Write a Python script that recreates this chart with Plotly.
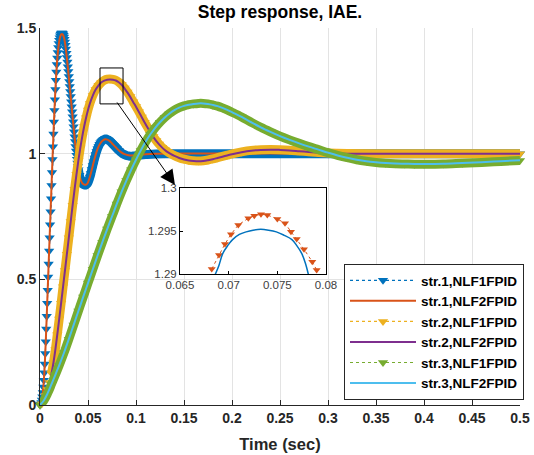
import plotly.graph_objects as go

# ---------------- data ----------------
# str.1, NLF1FPID (markers)
T1A = [0.0000, 0.0005, 0.0010, 0.0015, 0.0020, 0.0025, 0.0030, 0.0035, 0.0040, 0.0045,
       0.0050, 0.0055, 0.0060, 0.0065, 0.0070, 0.0075, 0.0080, 0.0085, 0.0090, 0.0095,
       0.0100, 0.0105, 0.0110, 0.0115, 0.0120, 0.0125, 0.0130, 0.0135, 0.0140, 0.0145,
       0.0150, 0.0155, 0.0160, 0.0165, 0.0170, 0.0175, 0.0180, 0.0185, 0.0190, 0.0195,
       0.0200, 0.0205, 0.0210, 0.0215, 0.0220, 0.0225, 0.0230, 0.0235, 0.0240, 0.0245,
       0.0250, 0.0255, 0.0260, 0.0265, 0.0270, 0.0275, 0.0280, 0.0285, 0.0290, 0.0295,
       0.0300, 0.0305, 0.0310, 0.0315, 0.0320, 0.0325, 0.0330, 0.0335, 0.0340, 0.0345,
       0.0350, 0.0355, 0.0360, 0.0365, 0.0370, 0.0375, 0.0380, 0.0385, 0.0390, 0.0395,
       0.0400, 0.0410, 0.0420, 0.0430, 0.0440, 0.0450, 0.0460, 0.0470, 0.0480, 0.0490,
       0.0500, 0.0510, 0.0520, 0.0530, 0.0540, 0.0550, 0.0560, 0.0570, 0.0580, 0.0590,
       0.0600, 0.0610, 0.0620, 0.0630, 0.0640, 0.0650, 0.0660, 0.0670, 0.0680, 0.0690,
       0.0700, 0.0710, 0.0720, 0.0730, 0.0740, 0.0750, 0.0760, 0.0770, 0.0780, 0.0790,
       0.0800, 0.0820, 0.0840, 0.0860, 0.0880, 0.0900, 0.0920, 0.0940, 0.0960, 0.0980,
       0.1000, 0.1050, 0.1100, 0.1200, 0.1300, 0.1500, 0.2000, 0.2500, 0.3000, 0.3500,
       0.4000, 0.4500, 0.5000]
Y1A = [0.000, 0.001, 0.004, 0.010, 0.020, 0.033, 0.050, 0.072, 0.098, 0.128,
       0.163, 0.205, 0.252, 0.302, 0.353, 0.405, 0.457, 0.509, 0.561, 0.613,
       0.665, 0.717, 0.769, 0.821, 0.873, 0.925, 0.977, 1.028, 1.078, 1.126,
       1.172, 1.215, 1.255, 1.292, 1.325, 1.355, 1.381, 1.403, 1.422, 1.438,
       1.451, 1.461, 1.469, 1.475, 1.478, 1.480, 1.480, 1.479, 1.476, 1.471,
       1.464, 1.455, 1.444, 1.431, 1.416, 1.400, 1.383, 1.365, 1.346, 1.327,
       1.307, 1.287, 1.267, 1.247, 1.227, 1.207, 1.187, 1.167, 1.147, 1.127,
       1.107, 1.087, 1.067, 1.048, 1.029, 1.011, 0.994, 0.978, 0.963, 0.949,
       0.936, 0.914, 0.899, 0.889, 0.882, 0.878, 0.876, 0.875, 0.876, 0.879,
       0.885, 0.895, 0.907, 0.921, 0.937, 0.953, 0.968, 0.983, 0.997, 1.009,
       1.020, 1.029, 1.037, 1.043, 1.048, 1.052, 1.055, 1.057, 1.058, 1.058,
       1.057, 1.055, 1.052, 1.049, 1.045, 1.041, 1.037, 1.033, 1.029, 1.025,
       1.021, 1.013, 1.006, 1.000, 0.996, 0.993, 0.991, 0.990, 0.990, 0.991,
       0.992, 0.995, 0.997, 0.999, 1.000, 1.000, 1.000, 1.000, 1.000, 1.000,
       1.000, 1.000, 1.000]

# str.1, NLF2FPID (line)
T1B = [0.000, 0.002, 0.003, 0.004, 0.005, 0.006, 0.007, 0.008, 0.009, 0.010,
       0.011, 0.012, 0.013, 0.014, 0.015, 0.016, 0.017, 0.018, 0.019, 0.020,
       0.021, 0.022, 0.023, 0.024, 0.025, 0.026, 0.027, 0.028, 0.029, 0.030,
       0.031, 0.032, 0.033, 0.034, 0.035, 0.036, 0.037, 0.038, 0.039, 0.040,
       0.041, 0.042, 0.043, 0.044, 0.045, 0.046, 0.047, 0.048, 0.049, 0.050,
       0.052, 0.054, 0.056, 0.058, 0.060, 0.062, 0.064, 0.066, 0.068, 0.070,
       0.072, 0.074, 0.076, 0.078, 0.080, 0.084, 0.088, 0.092, 0.096, 0.100,
       0.110, 0.120, 0.150, 0.200, 0.300, 0.400, 0.500]
Y1B = [0.000, 0.020, 0.050, 0.098, 0.163, 0.252, 0.353, 0.457, 0.561, 0.665,
       0.769, 0.873, 0.977, 1.077, 1.170, 1.252, 1.321, 1.377, 1.418, 1.447,
       1.465, 1.474, 1.476, 1.472, 1.461, 1.442, 1.414, 1.381, 1.344, 1.305,
       1.265, 1.225, 1.185, 1.145, 1.105, 1.066, 1.028, 0.994, 0.964, 0.937,
       0.915, 0.900, 0.890, 0.883, 0.879, 0.877, 0.876, 0.877, 0.880, 0.886,
       0.908, 0.937, 0.968, 0.996, 1.019, 1.036, 1.047, 1.054, 1.057, 1.056,
       1.052, 1.045, 1.037, 1.029, 1.021, 1.007, 0.998, 0.994, 0.993, 0.994,
       0.998, 1.000, 1.001, 1.001, 1.001, 1.000, 1.000]

# str.2 (both controllers share the time base)
T2 = [0.000, 0.002, 0.004, 0.006, 0.008, 0.010, 0.012, 0.014, 0.016, 0.018,
      0.020, 0.022, 0.024, 0.026, 0.028, 0.030, 0.032, 0.034, 0.036, 0.038,
      0.040, 0.042, 0.044, 0.046, 0.048, 0.050, 0.052, 0.055, 0.058, 0.061,
      0.064, 0.067, 0.070, 0.073, 0.076, 0.079, 0.082, 0.085, 0.088, 0.091,
      0.094, 0.097, 0.100, 0.103, 0.106, 0.109, 0.112, 0.115, 0.118, 0.121,
      0.124, 0.127, 0.130, 0.133, 0.136, 0.140, 0.145, 0.150, 0.155, 0.160,
      0.165, 0.170, 0.175, 0.180, 0.185, 0.190, 0.195, 0.200, 0.210, 0.220,
      0.230, 0.240, 0.250, 0.260, 0.270, 0.280, 0.290, 0.300, 0.320, 0.350,
      0.400, 0.450, 0.500]
Y2A = [0.000, 0.005, 0.018, 0.038, 0.062, 0.090, 0.125, 0.168, 0.220, 0.280,
       0.342, 0.405, 0.470, 0.535, 0.600, 0.665, 0.730, 0.795, 0.858, 0.918,
       0.973, 1.023, 1.068, 1.108, 1.143, 1.174, 1.200, 1.231, 1.255, 1.272,
       1.284, 1.292, 1.2962, 1.2970, 1.2958, 1.292, 1.285, 1.275, 1.261, 1.245,
       1.227, 1.207, 1.188, 1.167, 1.146, 1.125, 1.105, 1.086, 1.068, 1.052,
       1.038, 1.026, 1.016, 1.007, 1.000, 0.992, 0.984, 0.978, 0.974, 0.972,
       0.971, 0.972, 0.975, 0.979, 0.984, 0.989, 0.994, 0.999, 1.007, 1.013,
       1.016, 1.017, 1.016, 1.014, 1.011, 1.008, 1.005, 1.003, 1.001, 1.000,
       1.000, 1.000, 1.000]
Y2B = [0.000, 0.005, 0.018, 0.038, 0.062, 0.090, 0.125, 0.168, 0.220, 0.280,
       0.342, 0.405, 0.470, 0.535, 0.600, 0.665, 0.730, 0.795, 0.858, 0.918,
       0.973, 1.023, 1.068, 1.108, 1.143, 1.174, 1.200, 1.231, 1.255, 1.272,
       1.284, 1.2905, 1.2945, 1.2952, 1.2943, 1.291, 1.284, 1.274, 1.260, 1.244,
       1.226, 1.206, 1.187, 1.166, 1.145, 1.124, 1.104, 1.085, 1.067, 1.051,
       1.037, 1.025, 1.015, 1.006, 0.999, 0.991, 0.983, 0.977, 0.973, 0.971,
       0.970, 0.971, 0.974, 0.978, 0.983, 0.988, 0.993, 0.998, 1.006, 1.012,
       1.015, 1.016, 1.015, 1.013, 1.010, 1.007, 1.004, 1.002, 1.000, 1.000,
       1.000, 1.000, 1.000]

# str.3 (both controllers share the time base)
T3 = [0.000, 0.004, 0.008, 0.012, 0.016, 0.020, 0.025, 0.030, 0.035, 0.040,
      0.045, 0.050, 0.055, 0.060, 0.065, 0.070, 0.075, 0.080, 0.085, 0.090,
      0.095, 0.100, 0.105, 0.110, 0.115, 0.120, 0.125, 0.130, 0.135, 0.140,
      0.145, 0.150, 0.155, 0.160, 0.165, 0.170, 0.175, 0.180, 0.185, 0.190,
      0.195, 0.200, 0.210, 0.220, 0.230, 0.240, 0.250, 0.260, 0.270, 0.280,
      0.290, 0.300, 0.310, 0.320, 0.330, 0.340, 0.350, 0.360, 0.370, 0.380,
      0.390, 0.400, 0.420, 0.440, 0.460, 0.480, 0.500]
Y3A = [0.000, 0.018, 0.047, 0.083, 0.120, 0.158, 0.208, 0.262, 0.318, 0.374,
       0.430, 0.485, 0.540, 0.595, 0.648, 0.700, 0.750, 0.800, 0.848, 0.893,
       0.936, 0.976, 1.013, 1.047, 1.077, 1.103, 1.125, 1.144, 1.160, 1.173,
       1.183, 1.190, 1.195, 1.198, 1.200, 1.200, 1.198, 1.194, 1.189, 1.182,
       1.174, 1.165, 1.146, 1.125, 1.105, 1.087, 1.070, 1.055, 1.041, 1.028,
       1.016, 1.004, 0.993, 0.984, 0.976, 0.970, 0.965, 0.962, 0.960, 0.959,
       0.958, 0.958, 0.959, 0.962, 0.965, 0.969, 0.973]
Y3B = [0.000, 0.018, 0.047, 0.083, 0.120, 0.158, 0.208, 0.262, 0.318, 0.374,
       0.430, 0.485, 0.540, 0.595, 0.648, 0.700, 0.750, 0.800, 0.848, 0.893,
       0.936, 0.976, 1.013, 1.047, 1.077, 1.103, 1.125, 1.144, 1.160, 1.173,
       1.183, 1.190, 1.195, 1.198, 1.200, 1.200, 1.198, 1.194, 1.189, 1.182,
       1.174, 1.165, 1.146, 1.125, 1.105, 1.087, 1.070, 1.055, 1.041, 1.028,
       1.016, 1.004, 0.993, 0.984, 0.976, 0.970, 0.966, 0.963, 0.961, 0.960,
       0.959, 0.959, 0.960, 0.963, 0.966, 0.970, 0.974]

# inset (zoom of the str.2 peak)
TIN_M = [0.06826, 0.06901, 0.06962, 0.07024, 0.07099, 0.07202, 0.07263, 0.07332,
         0.07397, 0.07500, 0.07579, 0.07640, 0.07699, 0.07774, 0.07859, 0.07904]
YIN_M = [1.29058, 1.29221, 1.29349, 1.29462, 1.29570, 1.29648, 1.29678, 1.29694,
         1.29686, 1.29640, 1.29590, 1.29492, 1.29407, 1.29287, 1.29143, 1.29047]
TIN_L = [0.0686, 0.0690, 0.0694, 0.0699, 0.0704, 0.0711, 0.0718, 0.0725, 0.0733,
         0.0741, 0.0749, 0.0757, 0.0765, 0.0770, 0.0775, 0.0779, 0.0782]
YIN_L = [1.2899, 1.2910, 1.2924, 1.2933, 1.2940, 1.2946, 1.2949, 1.2951, 1.2952,
         1.2951, 1.2949, 1.2945, 1.2940, 1.2933, 1.2924, 1.2912, 1.2899]

X_TICKS = [0, 0.05, 0.1, 0.15, 0.2, 0.25, 0.3, 0.35, 0.4, 0.45, 0.5]
X_TICKTEXT = ["0", "0.05", "0.1", "0.15", "0.2", "0.25", "0.3", "0.35", "0.4", "0.45", "0.5"]
Y_TICKS = [0, 0.5, 1, 1.5]
Y_TICKTEXT = ["0", "0.5", "1", "1.5"]
XIN_TICKS = [0.065, 0.07, 0.075, 0.08]
XIN_TEXT = ["0.065", "0.07", "0.075", "0.08"]
YIN_TICKS = [1.29, 1.295, 1.3]
YIN_TEXT = ["1.29", "1.295", "1.3"]

NAMES = ["str.1,NLF1FPID", "str.1,NLF2FPID", "str.2,NLF1FPID",
         "str.2,NLF2FPID", "str.3,NLF1FPID", "str.3,NLF2FPID"]

# ---------------- styling ----------------
BLUE, ORANGE, YELLOW = "#0072BD", "#D95319", "#EDB120"
PURPLE, GREEN, LBLUE = "#7E2F8E", "#77AC30", "#4DBEEE"
FONT = "Liberation Sans, Arial, Helvetica, sans-serif"
TXT = "#262626"
BAND_W = 9
MK = 9

fig = go.Figure()


def add_marker_series(t, y, color, name, band_from):
    # dense overlapping markers form a thick band
    fig.add_trace(go.Scatter(x=t[band_from:], y=y[band_from:], mode="lines",
                             line=dict(color=color, width=BAND_W, shape="spline"),
                             showlegend=False, hoverinfo="skip"))
    fig.add_trace(go.Scatter(x=t, y=y, mode="lines+markers", name=name,
                             line=dict(color=color, width=1.2, dash="dot"),
                             marker=dict(symbol="triangle-down", size=MK, color=color,
                                         line=dict(width=0)),
                             cliponaxis=False))


def add_line_series(t, y, color, name):
    fig.add_trace(go.Scatter(x=t, y=y, mode="lines", name=name,
                             line=dict(color=color, width=2, shape="spline")))


add_marker_series(T1A, Y1A, BLUE, NAMES[0], 80)
add_line_series(T1B, Y1B, ORANGE, NAMES[1])
add_marker_series(T2, Y2A, YELLOW, NAMES[2], 6)
add_line_series(T2, Y2B, PURPLE, NAMES[3])
add_marker_series(T3, Y3A, GREEN, NAMES[4], 0)
add_line_series(T3, Y3B, LBLUE, NAMES[5])

# inset traces
fig.add_trace(go.Scatter(x=TIN_M, y=YIN_M, mode="lines+markers", xaxis="x2", yaxis="y2",
                         line=dict(color=ORANGE, width=1, dash="dot"),
                         marker=dict(symbol="triangle-down", size=7, color=ORANGE, line=dict(width=0)),
                         showlegend=False, hoverinfo="skip"))
fig.add_trace(go.Scatter(x=TIN_L, y=YIN_L, mode="lines", xaxis="x2", yaxis="y2",
                         line=dict(color=BLUE, width=1.5, shape="spline"),
                         showlegend=False, hoverinfo="skip"))

# ---------------- layout ----------------
W, H = 534, 455
L, R, T, B = 40, 14, 28, 50
px_w = W - L - R
px_h = H - T - B


def px_to_paper_x(px):
    return (px - L) / px_w


def px_to_paper_y(py):
    return (H - B - py) / px_h


axis_common = dict(showline=True, linecolor=TXT, linewidth=1, ticks="inside", ticklen=5,
                   tickcolor=TXT, showgrid=True, gridcolor="#e3e3e3", gridwidth=1,
                   zeroline=False, mirror=False, automargin=False,
                   tickfont=dict(family=FONT, size=14, color=TXT, weight="bold"))

fig.update_layout(
    width=W, height=H,
    margin=dict(l=L, r=R, t=T, b=B, autoexpand=False),
    paper_bgcolor="white", plot_bgcolor="white",
    title=dict(text="Step response, IAE.", x=px_to_paper_x(280), xref="paper", xanchor="center",
               y=1 - 12 / H, yref="container", yanchor="middle",
               font=dict(family=FONT, size=17.5, color="#000000", weight="bold")),
    xaxis=dict(range=[0, 0.5], tickvals=X_TICKS, ticktext=X_TICKTEXT,
               title=dict(text="Time (sec)", standoff=13,
                          font=dict(family=FONT, size=16.5, color=TXT, weight="bold")),
               **axis_common),
    yaxis=dict(range=[0, 1.5], tickvals=Y_TICKS, ticktext=Y_TICKTEXT, **axis_common),
    xaxis2=dict(domain=[px_to_paper_x(180), px_to_paper_x(326)], anchor="y2",
                range=[0.065, 0.08], tickvals=XIN_TICKS, ticktext=XIN_TEXT,
                showline=True, mirror=True, linecolor="#000000", linewidth=1,
                ticks="inside", ticklen=3, tickcolor="#000000",
                showgrid=True, gridcolor="#e3e3e3", zeroline=False, automargin=False,
                tickfont=dict(family=FONT, size=11.5, color="#404040")),
    yaxis2=dict(domain=[px_to_paper_y(274), px_to_paper_y(188)], anchor="x2",
                range=[1.29, 1.3], tickvals=YIN_TICKS, ticktext=YIN_TEXT,
                showline=True, mirror=True, linecolor="#000000", linewidth=1,
                ticks="inside", ticklen=3, tickcolor="#000000",
                showgrid=True, gridcolor="#e3e3e3", zeroline=False, automargin=False,
                tickfont=dict(family=FONT, size=11.5, color="#404040")),
    legend=dict(x=px_to_paper_x(524), xanchor="right", y=px_to_paper_y(400), yanchor="bottom",
                bgcolor="white", bordercolor=TXT, borderwidth=1,
                font=dict(family=FONT, size=13.5, color="#000000", weight="bold"),
                tracegroupgap=0, itemwidth=66),
    showlegend=True,
)

# white background of the inset, covering the main grid
fig.add_shape(type="rect", xref="x2", yref="y2", x0=0.065, x1=0.08, y0=1.29, y1=1.3,
              fillcolor="white", line=dict(width=0), layer="between")

# zoom rectangle on the main plot
fig.add_shape(type="rect", xref="x", yref="y", x0=0.0625, x1=0.0865, y0=1.198, y1=1.341,
              line=dict(color="#000000", width=1), layer="above")

# arrow from the zoom box to the inset
fig.add_annotation(x=0.1406, y=0.8754, ax=0.0792, ay=1.2097,
                   xref="x", yref="y", axref="x", ayref="y",
                   text="", showarrow=True, arrowhead=2, arrowsize=3,
                   arrowwidth=1, arrowcolor="#000000")

fig.write_html("out.html")
